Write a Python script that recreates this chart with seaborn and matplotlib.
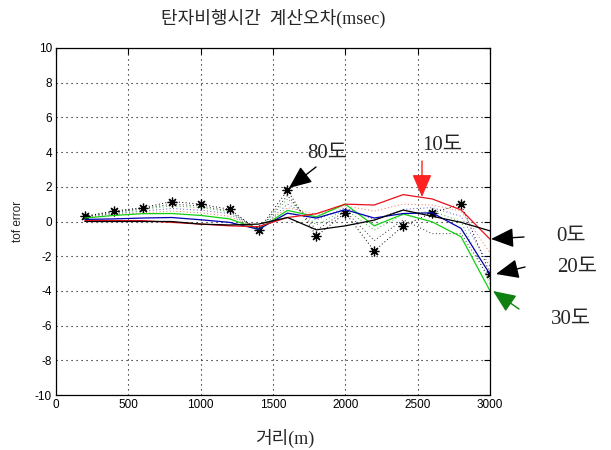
import numpy as np
import pandas as pd
import matplotlib
matplotlib.use("Agg")
import matplotlib.pyplot as plt
import seaborn as sns

# ---- data ----
distance = [200, 400, 600, 800, 1000, 1200, 1400, 1600, 1800, 2000, 2200, 2400, 2600, 2800, 3000]
err_0 = [0.0, 0.0, 0.0, 0.0, -0.15, -0.2, -0.15, 0.23, -0.48, -0.25, 0.08, 0.66, 0.3, -0.05, -0.54]
err_10 = [0.05, 0.05, 0.05, -0.05, -0.15, -0.25, -0.3, 0.23, 0.45, 1.0, 0.95, 1.55, 1.3, 0.67, -1.02]
err_20 = [0.12, 0.15, 0.2, 0.23, 0.1, -0.05, -0.45, 0.48, 0.2, 0.68, 0.2, 0.46, 0.5, -0.4, -3.05]
err_30 = [0.2, 0.35, 0.45, 0.46, 0.35, 0.15, -0.45, 0.64, 0.27, 1.0, -0.25, 0.43, -0.02, -0.88, -4.0]
err_40 = [0.25, 0.4, 0.5, 0.6, 0.5, 0.3, -0.45, 0.8, 0.4, 0.9, 0.6, 1.0, 0.95, 0.6, -1.8]
err_50 = [0.28, 0.45, 0.6, 0.75, 0.65, 0.45, -0.5, 1.0, 0.1, 0.8, 0.1, 0.7, 0.8, 0.3, -2.6]
err_60 = [0.3, 0.5, 0.7, 0.9, 0.8, 0.55, -0.5, 1.3, -0.2, 0.7, -0.5, 0.4, 0.6, 0.0, -3.6]
err_70 = [0.3, 0.55, 0.75, 1.0, 0.9, 0.6, -0.5, 1.5, -0.5, 0.6, -1.1, 0.1, -0.7, -0.7, -3.3]
err_80 = [0.3, 0.6, 0.8, 1.15, 1.0, 0.7, -0.5, 1.8, -0.85, 0.5, -1.7, -0.25, 0.5, 1.0, -3.0]

x_ticks = [0, 500, 1000, 1500, 2000, 2500, 3000]
y_ticks = [-10, -8, -6, -4, -2, 0, 2, 4, 6, 8, 10]

title_text = "탄자비행시간  계산오차(msec)"
xlabel_text = "거리(m)"
ylabel_text = "tof error"

series = [
    ("0도", err_0, "black", "-", None),
    ("10도", err_10, "#e8101a", "-", None),
    ("20도", err_20, "#0000b0", "-", None),
    ("30도", err_30, "#10d010", "-", None),
    ("40도", err_40, "#f07050", ":", None),
    ("50도", err_50, "#5050c0", ":", None),
    ("60도", err_60, "#40b040", ":", None),
    ("70도", err_70, "#303030", ":", None),
    ("80도", err_80, "black", ":", (8, 2, 0)),
]

rows = []
for name, vals, *_ in series:
    for d, v in zip(distance, vals):
        rows.append({"distance": d, "error": v, "angle": name})
df = pd.DataFrame(rows)

sns.set_style("white")
serif_ko = ["Liberation Serif", "Noto Sans CJK KR"]
plt.rcParams["font.family"] = ["Liberation Sans", "Noto Sans CJK KR"]

fig = plt.figure(figsize=(6.11, 4.5), dpi=100)
ax = fig.add_axes([56 / 611, 55 / 450, 434 / 611, 347 / 450])

# draw dotted first, solid on top
order = [4, 5, 6, 7, 8, 3, 2, 1, 0]
for i in order:
    name, vals, color, ls, marker = series[i]
    sub = df[df["angle"] == name]
    line_style = "-" if ls == "-" else (0, (1, 2.5))
    sns.lineplot(data=sub, x="distance", y="error", ax=ax, color=color,
                 linestyle=line_style, linewidth=0.9 if ls == "-" else 0.7,
                 marker=marker, markersize=7, markeredgewidth=0.9,
                 markeredgecolor="black", legend=False, errorbar=None)

ax.set_xlim(0, 3000)
ax.set_ylim(-10, 10)
ax.set_xticks(x_ticks)
ax.set_yticks(y_ticks)
ax.set_xticklabels([str(t) for t in x_ticks], fontsize=8.5)
ax.set_yticklabels([str(t) for t in y_ticks], fontsize=8.5)
ax.grid(True, linestyle=(0, (1, 3.5)), color="black", linewidth=0.8)
ax.tick_params(direction="in", length=4, width=0.8, colors="black", pad=3,
               top=True, right=True, labeltop=False, labelright=False)
for s in ax.spines.values():
    s.set_color("black")
    s.set_linewidth(0.9)

ax.set_xlabel("")
ax.set_ylabel(ylabel_text, fontsize=8.5, labelpad=8)
fig.text(273 / 611, 1 - 18 / 450, title_text, ha="center", va="center",
         fontsize=13, family=serif_ko)
fig.text(285 / 611, 1 - 438 / 450, xlabel_text, ha="center", va="center",
         fontsize=13, family=serif_ko)

H = 450
def arrow(tail, tip, color):
    ax.annotate("", xy=(tip[0], H - tip[1]), xytext=(tail[0], H - tail[1]),
                xycoords="figure pixels", textcoords="figure pixels",
                arrowprops=dict(arrowstyle="-|>,head_length=1.4,head_width=0.6",
                                color=color, lw=1.0, shrinkA=0, shrinkB=0),
                annotation_clip=False)

arrow((316, 167), (289, 188), "black")
arrow((422, 161), (422, 197), "#ff2020")
arrow((524, 237), (491, 239), "black")
arrow((525, 267), (496, 274), "black")
arrow((519, 309), (493, 291), "#108010")

labels = [("80도", 327, 153), ("10도", 442, 145), ("0도", 571, 236),
          ("20도", 577, 267), ("30도", 571, 320)]
for txt, x, y in labels:
    fig.text(x / 611, 1 - y / 450, txt, ha="center", va="center",
             fontsize=15, family=serif_ko)

fig.savefig("out.png", dpi=100)
